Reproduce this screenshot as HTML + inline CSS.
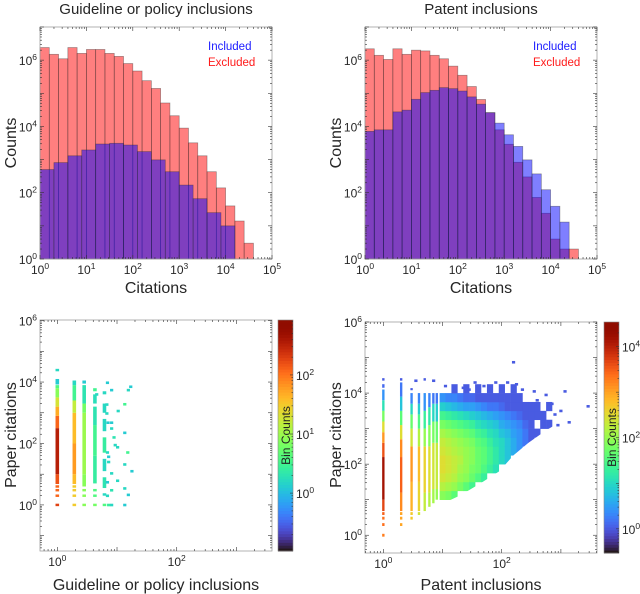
<!DOCTYPE html>
<html><head><meta charset="utf-8">
<style>
html,body{margin:0;padding:0;background:#fff;}
svg{display:block;font-family:"Liberation Sans",sans-serif;}
</style></head>
<body>
<svg id="fig" width="640" height="594" viewBox="0 0 640 594" xmlns="http://www.w3.org/2000/svg"></svg>
<script>
// ---------- DATA ----------
const glExcluded = [2.4e6,1.5e6,1.1e6,2.4e6,1.6e6,2.1e6,2.1e6,1.6e6,1.3e6,7.9e5,4.7e5,2.4e5,1.4e5,5.1e4,2.1e4,8900,3200,1300,430,140,40,14,3];
const glExcludedBinWidth = 0.2;
const glIncluded = [500,810,1300,1950,2950,3100,2750,1740,980,430,170,66,25,10];
const glIncludedBinWidth = 0.3;
const ptExcluded = [2.2e6,1.4e6,1.05e6,2.2e6,1.5e6,2.0e6,1.9e6,1.4e6,1.1e6,6.6e5,3.5e5,1.6e5,6.5e4,2.6e4,7900,2900,830,300,72,24,4,2,2];
const ptIncluded = [7100,7900,7900,2.75e4,3.1e4,6.6e4,1.05e5,1.23e5,1.48e5,1.38e5,1.17e5,7.8e4,4.7e4,2.6e4,1.26e4,5600,2500,980,370,123,39,13];
const ptBinWidth = 0.2;
const histXTicks = [0,1,2,3,4,5];
const histYTicks = [0,2,4,6];

const glColX = [0, 0.285, 0.45, 0.63, 0.79];
const glColBands = [
 [[-0.04,0.04,2.3],[0.26,0.34,2.1],[0.44,0.52,2.1],[0.56,0.64,2.1],[0.68,1.0,2.2],[1.0,2.5,2.55],[2.5,2.9,2.1],[2.9,3.2,1.7],[3.2,3.5,1.3],[3.5,3.8,0.9],[3.8,3.9,0.6],[3.92,4.1,0.1],[4.35,4.43,0.2]],
 [[-0.04,0.04,1.5],[0.26,0.34,1.5],[0.44,0.52,1.5],[0.56,0.64,1.5],[0.68,1.0,1.6],[1.0,2.0,1.8],[2.0,3.0,1.6],[3.0,3.4,1.2],[3.4,3.9,0.5],[3.9,4.05,0.2]],
 [[-0.04,0.04,0.9],[0.26,0.34,0.9],[0.44,0.52,0.9],[0.6,1.0,0.9],[1.0,3.0,1.0],[3.0,3.3,0.8],[3.3,3.9,0.3],[3.95,4.05,0.1]],
 [[-0.04,0.04,0.8],[0.26,0.34,0.6],[0.44,0.52,0.6],[0.7,1.6,0.4],[1.6,2.6,0.5],[2.6,3.2,0.3],[3.3,3.6,0.25],[3.7,3.8,0.5]],
 [[-0.04,0.04,0.6],[0.3,0.38,0.2],[0.55,0.9,0.3],[1.1,1.5,0.2],[1.7,2.2,0.4],[2.4,2.8,0.2],[3.0,3.3,0.2],[3.6,3.7,0.2]]
];
const glPoints = [[0.84,3.98,0.1],[0.91,3.74,0.1],[1.19,3.74,0.2],[1.23,3.85,0.1],[0.66,3.6,0.2],[1.13,3.28,0.5],[0.83,3.27,0.2],[0.83,2.98,0.2],[1.02,3.06,0.2],[0.85,2.68,0.1],[0.91,2.68,0.1],[0.91,2.49,0.2],[1.13,2.35,0.1],[1.01,1.88,0.2],[1.18,1.71,0.5],[0.84,1.71,0.2],[0.86,1.57,0.1],[1.13,1.32,0.2],[0.86,1.4,0.2],[1.25,1.1,0.1],[0.91,1.03,0.2],[1.01,0.79,0.2],[0.84,0.74,0.1],[1.13,0.54,0.2],[0.91,0.48,0.3],[0.84,0.3,0.2],[1.19,0.33,0.1],[1.13,0,0.1],[0.86,0,0.4],[0.91,0,0.2],[0.97,1.95,0.2],[0.95,2.2,0.3]];

const ptColX = [0, 0.301, 0.477, 0.602, 0.699, 0.778, 0.845, 0.903];
const ptColBands = [
 [[-0.04,0.04,3.3],[0.26,0.34,3.4],[0.44,0.52,3.4],[0.57,0.65,3.5],[0.68,1.0,3.7],[1.0,2.2,4.2],[2.2,2.6,3.6],[2.6,2.9,3.1],[2.9,3.2,2.5],[3.2,3.5,1.8],[3.5,3.8,1.1],[3.8,4.1,0.4],[4.15,4.25,0.1],[4.35,4.42,0]],
 [[0.26,0.34,3.0],[0.44,0.52,3.0],[0.57,0.65,3.0],[0.68,1.2,3.2],[1.2,2.2,3.5],[2.2,2.7,3.2],[2.7,3.1,2.5],[3.1,3.5,1.6],[3.5,3.9,0.8],[3.9,4.3,0.2],[4.35,4.42,0]],
 [[0.44,0.52,2.7],[0.57,0.65,2.7],[0.68,1.5,2.9],[1.5,2.5,3.1],[2.5,3.0,2.4],[3.0,3.4,1.7],[3.4,3.7,1.0],[3.7,4.0,0.3],[4.08,4.14,0]],
 [[0.57,0.65,2.4],[0.68,1.5,2.6],[1.5,2.5,2.8],[2.5,3.0,2.2],[3.0,3.4,1.5],[3.4,3.7,0.9],[3.7,4.0,0.3]],
 [[0.68,1.2,2.3],[1.2,2.5,2.6],[2.5,3.0,2.0],[3.0,3.5,1.3],[3.5,4.0,0.4],[4.35,4.42,0]],
 [[0.8,1.2,2.2],[1.2,2.5,2.5],[2.5,3.1,1.9],[3.1,3.6,1.2],[3.6,4.0,0.3]],
 [[0.9,1.3,2.1],[1.3,2.6,2.4],[2.6,3.2,1.8],[3.2,3.7,1.0],[3.7,4.0,0.2]],
 [[1.0,1.3,2.0],[1.3,2.6,2.3],[2.6,3.2,1.7],[3.2,3.7,0.9],[3.7,4.0,0.2]]
];
const ptGridX = [0.95,1.05,1.15,1.25,1.35,1.45,1.55,1.65,1.75,1.85,1.95,2.05,2.15,2.25,2.35,2.45,2.55,2.65,2.75];
const ptGridY = [0.75,1.0,1.25,1.5,1.75,2.0,2.25,2.5,2.75,3.0,3.25,3.5,3.75,4.0];
const ptGrid = [
 [null,1.9,2.2,2.4,2.5,2.5,2.4,2.3,2.1,1.8,1.4,0.9,0.4,null],
 [null,1.8,2.1,2.3,2.4,2.4,2.3,2.2,2.0,1.7,1.3,0.8,0.3,null],
 [null,1.6,2.0,2.2,2.3,2.3,2.2,2.1,1.9,1.6,1.2,0.7,0.3,0.0],
 [null,null,1.8,2.0,2.1,2.2,2.1,2.0,1.8,1.5,1.1,0.6,0.2,null],
 [null,null,1.6,1.9,2.0,2.0,2.0,1.9,1.7,1.4,1.0,0.5,0.1,0.0],
 [null,null,1.4,1.7,1.8,1.9,1.9,1.8,1.6,1.3,0.9,0.5,0.1,null],
 [null,null,null,1.5,1.7,1.7,1.7,1.6,1.4,1.1,0.8,0.4,0.0,0.0],
 [null,null,null,1.3,1.5,1.6,1.6,1.5,1.3,1.0,0.7,0.3,0.0,null],
 [null,null,null,null,1.3,1.4,1.4,1.3,1.1,0.9,0.6,0.2,0.0,0.0],
 [null,null,null,null,1.1,1.2,1.2,1.1,1.0,0.8,0.5,0.2,0.0,null],
 [null,null,null,null,null,1.0,1.0,1.0,0.8,0.6,0.4,0.1,0.0,0.0],
 [null,null,null,null,null,0.8,0.8,0.8,0.7,0.5,0.3,0.0,0.0,null],
 [null,null,null,null,null,null,0.6,0.6,0.5,0.4,0.2,0.0,0.0,0.0],
 [null,null,null,null,null,null,0.4,0.4,0.4,0.3,0.1,0.0,0.0,null],
 [null,null,null,null,null,null,null,0.2,0.2,0.1,0.0,0.0,null,null],
 [null,null,null,null,null,null,null,0.0,0.0,0.0,0.0,0.0,null,null],
 [null,null,null,null,null,null,null,null,0.0,null,0.0,0.0,null,null],
 [null,null,null,null,null,null,null,null,null,0.0,0.0,null,null,null],
 [null,null,null,null,null,null,null,null,null,0.0,null,0.0,null,null]
];
// lower boundary of the dense region [log x, log y]
const ptEdgeX = [0.95,1.3,1.63,1.96,2.2,2.45,2.75,2.9];
const ptEdgeY = [0.85,1.12,1.45,1.8,2.25,2.6,2.95,3.1];
const ptPoints = [[1.35,4.15,0],[1.55,4.3,0],[1.7,4.2,0],[1.9,4.3,0],[2.0,4.1,0],[2.1,4.3,0],[2.25,4.25,0],[0.55,4.35,0],[0.85,4.35,0],[1.05,4.2,0],[2.55,4.05,0],[2.75,3.95,0],[2.9,3.4,0],[3.0,3.5,0],[3.07,4.05,0],[3.14,3.18,0],[3.46,3.63,0],[2.2,4.87,0],[2.95,3.1,0],[2.7,3.2,0],[2.85,3.7,0],[2.6,3.8,0],[1.45,4.1,0],[1.8,4.1,0],[2.35,4.1,0]];
const hmXTicks = [0,2];
const glHmYTicks = [0,2,4,6];
const ptHmYTicks = [0,2,4,6];
const glCbTicks = [0,1,2];
const ptCbTicks = [0,2,4];

// ---------- HELPERS ----------
const NS="http://www.w3.org/2000/svg";
const svg=document.getElementById('fig');
function mk(tag,attrs,parent){const e=document.createElementNS(NS,tag);for(const k in attrs)e.setAttribute(k,attrs[k]);(parent||svg).appendChild(e);return e;}
function turbo(t){t=Math.max(0,Math.min(1,t));
 const r=0.13572138+t*(4.61539260+t*(-42.66032258+t*(132.13108234+t*(-152.94239396+t*59.28637943))));
 const g=0.09140261+t*(2.19418839+t*(4.84296658+t*(-14.18503333+t*(4.27729857+t*2.82956604))));
 const b=0.10667330+t*(12.64194608+t*(-60.58204836+t*(110.36276771+t*(-89.90310912+t*27.34824973))));
 const c=v=>Math.round(Math.max(0,Math.min(1,v))*255);return `rgb(${c(r)},${c(g)},${c(b)})`;}
function logAxis(x0,x1,lmin,lmax){return l=>x0+(l-lmin)/(lmax-lmin)*(x1-x0);}
function tickLabel(x,y,exp,anchor,name,parent){
 const t=mk('text',{x:x,y:y,'font-size':12,fill:'#262626','text-anchor':anchor},parent);
 
 
 const a=mk('tspan',{},t);a.textContent='10';
 const b=mk('tspan',{dy:-5,'font-size':8.5},t);b.textContent=String(exp);
 return t;}
function frame(x0,y0,x1,y1,lx0,lx1,ly0,ly1,xt,yt,name){
 const g=mk('g',{});
 
 
 mk('rect',{x:x0,y:y0,width:x1-x0,height:y1-y0,fill:'none',stroke:'#a0a0a0','stroke-width':0.8},g);
 const X=logAxis(x0,x1,lx0,lx1),Y=logAxis(y1,y0,ly0,ly1);
 for(let d=Math.floor(lx0);d<=lx1;d++){for(let m=1;m<10;m++){const l=d+Math.log10(m);if(l<lx0-1e-9||l>lx1+1e-9)continue;const len=m==1?4:2;const x=X(l);
  mk('line',{x1:x,x2:x,y1:y1,y2:y1-len,stroke:'#333','stroke-width':0.6},g);mk('line',{x1:x,x2:x,y1:y0,y2:y0+len,stroke:'#333','stroke-width':0.6},g);}}
 for(let d=Math.floor(ly0);d<=ly1;d++){for(let m=1;m<10;m++){const l=d+Math.log10(m);if(l<ly0-1e-9||l>ly1+1e-9)continue;const len=m==1?4:2;const y=Y(l);
  mk('line',{x1:x0,x2:x0+len,y1:y,y2:y,stroke:'#333','stroke-width':0.6},g);mk('line',{x1:x1,x2:x1-len,y1:y,y2:y,stroke:'#333','stroke-width':0.6},g);}}
 xt.forEach(v=>tickLabel(X(v),y1+15,v,'middle',name+'-x-tick',g));
 yt.forEach(v=>tickLabel(x0-3,Y(v)+5,v,'end',name+'-y-tick',g));
 return {X,Y};}
function label(x,y,txt,size,name,rot,color,anchor){
 const t=mk('text',{x:x,y:y,'font-size':size,fill:color||'#262626','text-anchor':anchor||'middle'});
 if(rot)t.setAttribute('transform',`rotate(-90 ${x} ${y})`);
 t.textContent=txt;
 
 
 return t;}

// ---------- HISTOGRAMS ----------
function histogram(x0,x1,excl,exW,incl,inW,name,title,tx){
 const y0=27,y1=259;
 const X=logAxis(x0,x1,0,5),Y=logAxis(y1,y0,0,7);
 const g=mk('g',{});
 
 
 excl.forEach((v,i)=>{const r=mk('rect',{x:X(i*exW),y:Y(Math.log10(v)),width:X((i+1)*exW)-X(i*exW),height:y1-Y(Math.log10(v)),fill:'rgba(255,0,0,0.5)',stroke:'rgba(40,40,40,0.45)','stroke-width':0.7},g);
  
  });
 incl.forEach((v,i)=>{const r=mk('rect',{x:X(i*inW),y:Y(Math.log10(v)),width:X((i+1)*inW)-X(i*inW),height:y1-Y(Math.log10(v)),fill:'rgba(0,0,255,0.5)',stroke:'rgba(40,40,40,0.45)','stroke-width':0.7},g);
  
  });
 frame(x0,y0,x1,y1,0,5,0,7,histXTicks,histYTicks,name);
 label((x0+x1)/2,14,title,15,name+'-title');
 label((x0+x1)/2,293,'Citations',16,name+'-x-axis-title');
 label(tx,143,'Counts',16,name+'-y-axis-title',true);
 label(x1-64,50,'Included',11.5,name+'-legend-included','','#1a1aff','start');
 label(x1-64,66,'Excluded',11.5,name+'-legend-excluded','','#ff1a1a','start');
}
histogram(40,272,glExcluded,glExcludedBinWidth,glIncluded,glIncludedBinWidth,'guideline-histogram','Guideline or policy inclusions',16);
histogram(365,597,ptExcluded,ptBinWidth,ptIncluded,ptBinWidth,'patent-histogram','Patent inclusions',341);

// ---------- HEATMAPS ----------
let clipId=0;
function heatmap(cfg){
 const {x0,x1,y0,y1,lx0,lx1,ly0,ly1,cmin,cmax,name}=cfg;
 const X=logAxis(x0,x1,lx0,lx1),Y=logAxis(y1,y0,ly0,ly1);
 const col=c=>turbo((c-cmin)/(cmax-cmin));
 const g=mk('g',{});
 
 
 cfg.colX.forEach((lx,i)=>{cfg.colBands[i].forEach(b=>{
  const r=mk('rect',{x:X(lx-cfg.colW/2),y:Y(b[1]),width:X(lx+cfg.colW/2)-X(lx-cfg.colW/2),height:Y(b[0])-Y(b[1]),fill:col(b[2])},g);
  
  });});
 if(cfg.gridX){
  let gg=g;
  if(cfg.edgeX){
   const id='clip'+(clipId++);
   const cp=mk('clipPath',{id:id});
   let pts=cfg.edgeX.map((ex,i)=>X(ex)+','+Y(cfg.edgeY[i]));
   pts.push(X(cfg.edgeX[cfg.edgeX.length-1]+0.5)+','+Y(cfg.edgeY[cfg.edgeY.length-1]));
   pts.push(X(cfg.edgeX[cfg.edgeX.length-1]+0.5)+','+y0);
   pts.push(X(cfg.edgeX[0])+','+y0);
   mk('polygon',{points:pts.join(' ')},cp);
   gg=mk('g',{'clip-path':`url(#${id})`},g);
  }
  const dx=cfg.gridX[1]-cfg.gridX[0];
  cfg.gridX.forEach((gx,i)=>{cfg.grid[i].forEach((v,j)=>{if(v===null)return;
  const gy=cfg.gridY[j];
  const r=mk('rect',{x:X(gx),y:Y(gy+0.25),width:X(gx+dx)-X(gx)+0.3,height:Y(gy)-Y(gy+0.25)+0.3,fill:col(v)},gg);
  
  });});}
 cfg.points.forEach(p=>{const r=mk('rect',{x:X(p[0])-1.6,y:Y(p[1])-1.2,width:3.2,height:2.6,fill:col(p[2])},g);
  
  });
 frame(x0,y0,x1,y1,lx0,lx1,ly0,ly1,hmXTicks,cfg.yTicks,name);
 const cb=mk('g',{});
 
 
 const n=80,cx=cfg.cbx;
 for(let i=0;i<n;i++){mk('rect',{x:cx,y:y1-(i+1)*(y1-y0)/n,width:15,height:(y1-y0)/n+0.5,fill:turbo(i/(n-1))},cb);}
 mk('rect',{x:cx,y:y0,width:15,height:y1-y0,fill:'none',stroke:'#888','stroke-width':0.6},cb);
 const CY=logAxis(y1,y0,cmin,cmax);
 for(let d=Math.ceil(cmin-1);d<=cmax;d++){for(let m=1;m<10;m++){const l=d+Math.log10(m);if(l<cmin||l>cmax)continue;const y=CY(l);
  mk('line',{x1:cx+15,x2:cx+15-(m==1?3:1.5),y1:y,y2:y,stroke:'#333','stroke-width':0.6},cb);}}
 cfg.cbTicks.forEach(v=>tickLabel(cx+18,CY(v)+5,v,'start',name+'-colorbar-tick',cb));
 label(cx+12,(y0+y1)/2,'Bin Counts',12,name+'-colorbar-title',true,'#222');
 label((x0+x1)/2,590,cfg.xTitle,16,name+'-x-axis-title');
 label(cfg.ytx,435,'Paper citations',16,name+'-y-axis-title',true);
}
heatmap({x0:40,x1:272,y0:320,y1:551,lx0:-0.29,lx1:3.596,ly0:-1.5,ly1:6.02,cmin:-0.98,cmax:2.93,name:'guideline-heatmap',
 colX:glColX,colBands:glColBands,colW:0.06,points:glPoints,yTicks:glHmYTicks,cbx:278,cbTicks:glCbTicks,xTitle:'Guideline or policy inclusions',ytx:16});
heatmap({x0:365,x1:597,y0:322,y1:553,lx0:-0.31,lx1:3.61,ly0:-0.5,ly1:6.0,cmin:-0.53,cmax:4.54,name:'patent-heatmap',
 colX:ptColX,colBands:ptColBands,colW:0.04,gridX:ptGridX,gridY:ptGridY,grid:ptGrid,edgeX:ptEdgeX,edgeY:ptEdgeY,points:ptPoints,yTicks:ptHmYTicks,cbx:604,cbTicks:ptCbTicks,xTitle:'Patent inclusions',ytx:341});
</script>
</body></html>
